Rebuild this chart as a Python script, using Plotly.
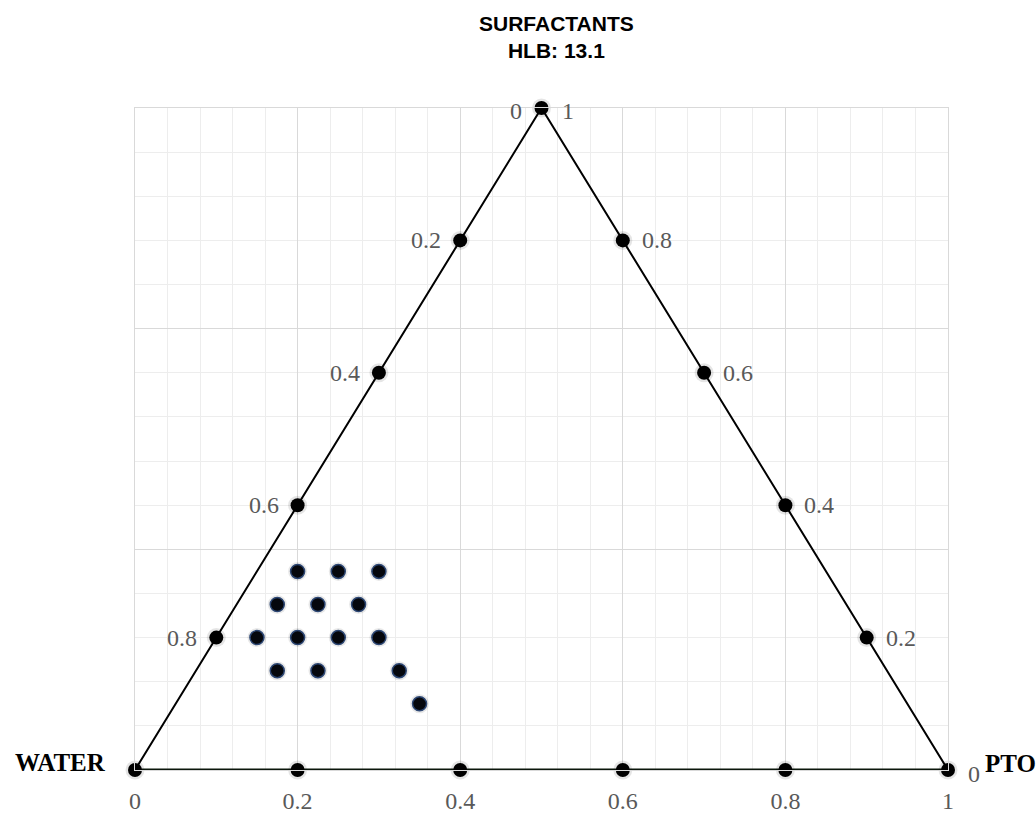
import plotly.graph_objects as go

# Ternary compositions (fractions), plotted on a cartesian grid:
# x = PTO + SURFACTANT / 2, y = SURFACTANT
corner_pto = [0.0, 1.0, 0.0]
corner_surf = [0.0, 0.0, 1.0]
edge_steps = [0.2, 0.4, 0.6, 0.8]
x_ticks = [0, 0.2, 0.4, 0.6, 0.8, 1]

# Formulations (surfactant / PTO fractions, balance water)
surf = [0.30, 0.30, 0.30, 0.25, 0.25, 0.25, 0.20, 0.20, 0.20, 0.20, 0.15, 0.15, 0.15, 0.10]
pto = [0.05, 0.10, 0.15, 0.05, 0.10, 0.15, 0.05, 0.10, 0.15, 0.20, 0.10, 0.15, 0.25, 0.30]


def to_xy(p, s):
    return [pi + si / 2 for pi, si in zip(p, s)], list(s)


GREY = "#595959"
SERIF = "Liberation Serif, Times New Roman, serif"
LABEL_SIZE = 24

# corners and edge points
tri_x, tri_y = to_xy(corner_pto, corner_surf)          # water, PTO, surfactant corners
left_s = edge_steps                                     # water-surfactant edge (PTO = 0)
left_x, left_y = to_xy([0] * 4, left_s)
right_s = edge_steps[::-1]                              # PTO-surfactant edge (water = 0)
right_x, right_y = to_xy([1 - s for s in right_s], right_s)
base_x, base_y = to_xy(edge_steps, [0] * 4)             # water-PTO edge

fig = go.Figure()

# sides of the triangle
fig.add_trace(go.Scatter(x=[tri_x[0], tri_x[2], tri_x[1]], y=[tri_y[0], tri_y[2], tri_y[1]],
                         mode="lines", line=dict(color="#000000", width=2),
                         hoverinfo="skip", showlegend=False, cliponaxis=False))
fig.add_trace(go.Scatter(x=[tri_x[0], tri_x[1]], y=[tri_y[0], tri_y[1]], mode="lines",
                         line=dict(color="#0b160b", width=3), hoverinfo="skip",
                         showlegend=False, cliponaxis=False))

all_edge_x = tri_x + left_x + right_x + base_x
all_edge_y = tri_y + left_y + right_y + base_y
# soft shadow under the black markers
fig.add_trace(go.Scatter(x=all_edge_x, y=all_edge_y, mode="markers",
                         marker=dict(size=19, color="rgba(0,0,0,0.10)"),
                         hoverinfo="skip", showlegend=False, cliponaxis=False))
fig.add_trace(go.Scatter(x=all_edge_x, y=all_edge_y, mode="markers",
                         marker=dict(size=14, color="#000000"),
                         showlegend=False, cliponaxis=False))

# formulation points
fx, fy = to_xy(pto, surf)
fig.add_trace(go.Scatter(x=fx, y=fy, mode="markers",
                         marker=dict(size=19, color="rgba(0,0,0,0.09)"),
                         hoverinfo="skip", showlegend=False))
fig.add_trace(go.Scatter(x=fx, y=fy, mode="markers",
                         marker=dict(size=14, color="#05070d",
                                     line=dict(color="#2c4673", width=1.5)),
                         showlegend=False))

label_font = dict(family=SERIF, size=LABEL_SIZE, color=GREY)
ann = []
# water fraction labels along the left edge
for x, y, s in zip(left_x, left_y, left_s):
    ann.append(dict(x=x, y=y, text=f"{1 - s:.1f}", xanchor="right", yanchor="middle",
                    xshift=-17, showarrow=False, font=label_font))
# surfactant fraction labels along the right edge
for x, y, s in zip(right_x, right_y, right_s):
    ann.append(dict(x=x, y=y, text=f"{s:.1f}", xanchor="left", yanchor="middle",
                    xshift=17, showarrow=False, font=label_font))
# corner values
ann += [
    dict(x=tri_x[2], y=tri_y[2], text="0", xanchor="right", yanchor="middle", xshift=-18,
         yshift=-3, showarrow=False, font=label_font),
    dict(x=tri_x[2], y=tri_y[2], text="1", xanchor="left", yanchor="middle", xshift=18,
         yshift=-3, showarrow=False, font=label_font),
    dict(x=tri_x[1], y=tri_y[1], text="0", xanchor="left", yanchor="middle", xshift=18,
         yshift=-4, showarrow=False, font=label_font),
    dict(x=tri_x[1], y=tri_y[1], text="<b>PTO</b>", xanchor="left", yanchor="middle",
         xshift=35, yshift=7, showarrow=False,
         font=dict(family=SERIF, size=25, color="#000000")),
    dict(x=tri_x[0], y=tri_y[0], text="<b>WATER</b>", xanchor="right", yanchor="middle",
         xshift=-27, yshift=8, showarrow=False,
         font=dict(family=SERIF, size=25, color="#000000")),
    # chart title
    dict(x=0.518, y=1.107, xref="paper", yref="paper", text="<b>SURFACTANTS<br>HLB: 13.1</b>",
         xanchor="center", yanchor="middle", showarrow=False, align="center",
         font=dict(family="Liberation Sans, Arial, sans-serif", size=21, color="#000000")),
]

fig.update_layout(
    width=1036, height=813,
    margin=dict(l=135, r=88, t=108, b=43),
    paper_bgcolor="white", plot_bgcolor="white",
    showlegend=False,
    annotations=ann,
    xaxis=dict(range=[0, 1], tickvals=x_ticks, ticktext=[f"{v:g}" for v in x_ticks],
               showgrid=True, gridcolor="#d9d9d9", gridwidth=1,
               minor=dict(dtick=0.04, showgrid=True, gridcolor="#ededed", gridwidth=1),
               zeroline=False, showline=True, mirror=True, linecolor="#d9d9d9",
               ticks="", ticklabelstandoff=9, automargin=False,
               tickfont=dict(family=SERIF, size=LABEL_SIZE, color=GREY),
               fixedrange=True),
    yaxis=dict(range=[0, 1], tick0=0, dtick=1 / 3, showticklabels=False,
               showgrid=True, gridcolor="#d9d9d9", gridwidth=1,
               minor=dict(tick0=0, dtick=1 / 15, showgrid=True, gridcolor="#ededed", gridwidth=1),
               zeroline=False, showline=True, mirror=True, linecolor="#d9d9d9",
               ticks="", automargin=False, fixedrange=True),
)

fig.write_html("out.html")
